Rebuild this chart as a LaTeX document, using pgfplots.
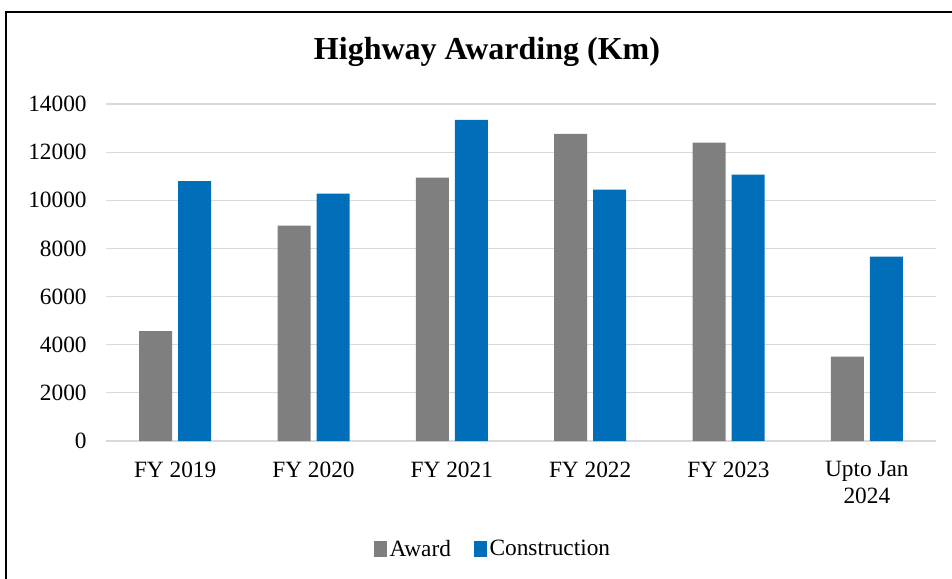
\documentclass[border=0pt]{standalone}
\usepackage{fontspec}
\setmainfont{Liberation Serif}
\usepackage{pgfplots}
\pgfplotsset{compat=1.18}
\definecolor{award}{HTML}{7F7F7F}
\definecolor{constr}{HTML}{006EB9}
\definecolor{gridc}{HTML}{D9D9D9}
\begin{document}
\begin{tikzpicture}
\useasboundingbox (0pt,0pt) rectangle (714pt,433.5pt);
\draw[line width=1.5pt] (4.5pt,-1pt) -- (4.5pt,424.5pt) -- (715pt,424.5pt);
\node[font=\bfseries\fontsize{24}{29}\selectfont] at (365.25pt,394.5pt) {Highway Awarding (Km)};
\begin{axis}[
  at={(79.5pt,102.75pt)}, anchor=south west,
  scale only axis, width=622.5pt, height=252.75pt,
  xmin=-0.5, xmax=5.5, ymin=0, ymax=14000,
  xtick={0,1,2,3,4,5},
  xticklabels={FY 2019,FY 2020,FY 2021,FY 2022,FY 2023,{Upto Jan\\2024}},
  ytick={0,2000,...,14000},
  scaled y ticks=false,
  /pgf/number format/assume math mode=true,
  /pgf/number format/1000 sep={},
  tick label style={font=\fontsize{17.5}{20}\selectfont},
  xticklabel style={align=center, anchor=north, yshift=-12pt},
  yticklabel style={xshift=-11pt},
  major tick length=0pt,
  axis line style={draw=none},
  ymajorgrids, grid style={gridc, line width=0.9pt},
  ybar=4.5pt, bar width=24.75pt,
  legend style={at={(0.4665,-0.3205)}, anchor=center, draw=none, fill=none,
    legend columns=2, font=\fontsize{17.5}{20}\selectfont,
    /tikz/every even column/.append style={column sep=15pt}},
  legend image code/.code={\fill[#1] (0pt,-6pt) rectangle (10pt,6pt);},
  legend cell align=left,
]
\addplot[fill=award, draw=none] coordinates {(0,4560) (1,8950) (2,10940) (3,12760) (4,12400) (5,3510)};
\addplot[fill=constr, draw=none] coordinates {(0,10800) (1,10280) (2,13340) (3,10440) (4,11070) (5,7660)};
\legend{Award, Construction}
\end{axis}
\end{tikzpicture}
\end{document}
